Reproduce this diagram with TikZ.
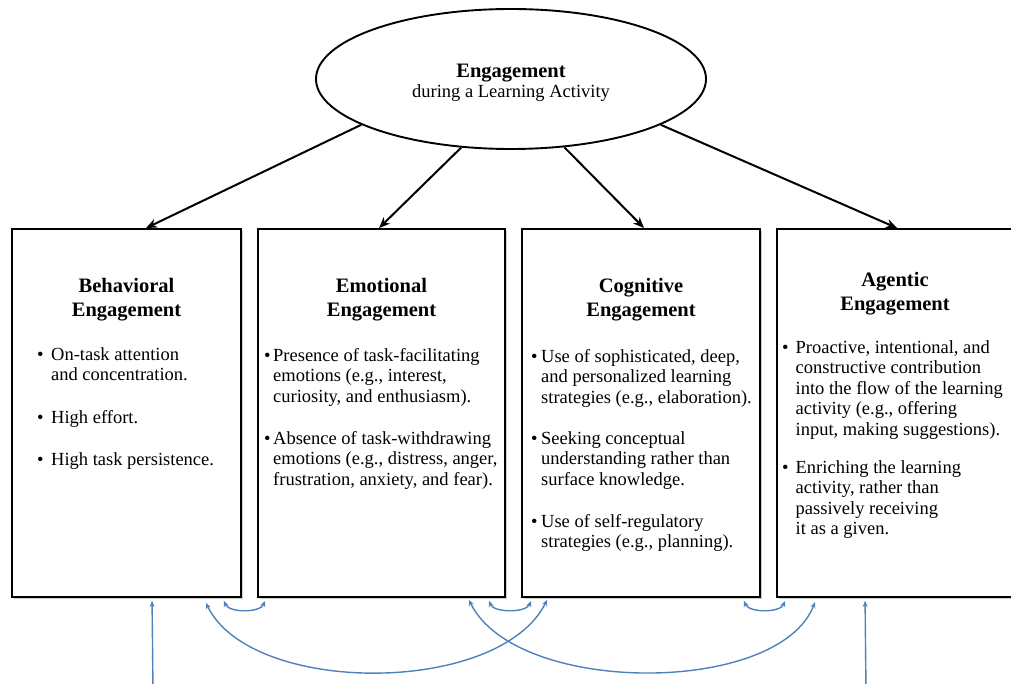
\documentclass[tikz,border=0pt]{standalone}
\usepackage{fontspec}
\setmainfont{Liberation Serif}
\usetikzlibrary{arrows.meta,shapes.geometric,calc,shadows}
\definecolor{linkblue}{RGB}{79,129,189}
\newcommand\bitem[2]{\textbullet\hspace{#1}\begin{tabular}[t]{@{}l@{}}#2\end{tabular}}
\begin{document}
\begin{tikzpicture}[x=1pt,y=-1pt,
  box/.style={draw=black, line width=1.9pt, fill=white, rectangle, minimum height=368pt, inner sep=0pt,
    drop shadow={shadow xshift=1.8pt, shadow yshift=-1.8pt, fill=black!40}},
  ttl/.style={font=\fontsize{20.5}{24}\selectfont\bfseries, anchor=base, inner sep=0pt},
  bl/.style={font=\fontsize{18.5}{20.6}\selectfont, anchor=base west, inner sep=0pt},
  harrow/.style={-{Stealth[length=11pt,width=9pt]}, line width=2pt},
  barrow/.style={{Stealth[length=6pt,width=5pt]}-{Stealth[length=6pt,width=5pt]}, draw=linkblue, line width=1.4pt},
  varrow/.style={-{Stealth[length=6pt,width=5pt]}, draw=linkblue, line width=1.4pt},
]
\useasboundingbox (0,0) rectangle (1011,684);

% top ellipse
\node[ellipse, draw, line width=1.9pt, minimum width=390pt, minimum height=140pt, inner sep=0pt] (eng) at (511,79)
  {\fontsize{18.5}{20}\selectfont\raisebox{-9pt}[0pt][0pt]{\begin{tabular}[c]{@{}c@{}}\fontsize{20.5}{20}\selectfont\bfseries Engagement\\during a Learning Activity\end{tabular}}};

% boxes
\node[box, minimum width=229pt] (b1) at (126.5,413) {};
\node[box, minimum width=247pt] (b2) at (381.5,413) {};
\node[box, minimum width=238pt] (b3) at (641,413) {};
\node[box, minimum width=236pt] (b4) at (895,413) {};

% titles
\node[ttl] (t1) at (126.5,293) {\begin{tabular}[t]{@{}c@{}}Behavioral\\Engagement\end{tabular}};
\node[ttl] (t2) at (381.5,293) {\begin{tabular}[t]{@{}c@{}}Emotional\\Engagement\end{tabular}};
\node[ttl] (t3) at (641,293) {\begin{tabular}[t]{@{}c@{}}Cognitive\\Engagement\end{tabular}};
\node[ttl] (t4) at (895,287) {\begin{tabular}[t]{@{}c@{}}Agentic\\Engagement\end{tabular}};

% bullets box 1
\node[bl] (b1i1) at (37,360) {\bitem{7.5pt}{On-task attention\\and concentration.}};
\node[bl] (b1i2) at (37,423) {\bitem{7.5pt}{High effort.}};
\node[bl] (b1i3) at (37,465) {\bitem{7.5pt}{High task persistence.}};
% bullets box 2
\node[bl] (b2i1) at (264,361) {\bitem{2.5pt}{Presence of task-facilitating\\emotions (e.g., interest,\\curiosity, and enthusiasm).}};
\node[bl] (b2i2) at (264,444) {\bitem{2.5pt}{Absence of task-withdrawing\\emotions (e.g., distress, anger,\\frustration, anxiety, and fear).}};
% bullets box 3
\node[bl] (b3i1) at (531,362) {\bitem{3.5pt}{Use of sophisticated, deep,\\and personalized learning\\strategies (e.g., elaboration).}};
\node[bl] (b3i2) at (531,444) {\bitem{3.5pt}{Seeking conceptual\\understanding rather than\\surface knowledge.}};
\node[bl] (b3i3) at (531,527) {\bitem{3.5pt}{Use of self-regulatory\\strategies (e.g., planning).}};
% bullets box 4
\node[bl] (b4i1) at (782,353) {\bitem{7pt}{Proactive, intentional, and\\constructive contribution\\into the flow of the learning\\activity (e.g., offering\\input, making suggestions).}};
\node[bl] (b4i2) at (782,473) {\bitem{7pt}{Enriching the learning\\activity, rather than\\passively receiving\\it as a given.}};

% black arrows
\draw[harrow] (eng.197.2) -- ($(b1.north west)+(135,0)$);
\draw[harrow] (eng.234.3) -- ($(b2.north west)+(122,0)$);
\draw[harrow] (eng.308.3) -- ($(b3.north west)+(123,0)$);
\draw[harrow] (eng.343.7) -- ($(b4.north west)+(121,0)$);

% blue arrows
\coordinate (v1) at (153,690);
\coordinate (v2) at (866,690);
\draw[varrow] (v1) -- ($(b1.south west)+(141,3)$);
\draw[varrow] (v2) -- ($(b4.south west)+(89,3)$);

\draw[barrow] ($(b1.south east)+(-18,3)$) .. controls +(5,12) and +(-5,12) .. ($(b2.south west)+(8,3)$);
\draw[barrow] ($(b2.south east)+(-17,3)$) .. controls +(5,12) and +(-5,12) .. ($(b3.south west)+(10,3)$);
\draw[barrow] ($(b3.south east)+(-17,3)$) .. controls +(5,12) and +(-5,12) .. ($(b4.south west)+(9,3)$);

\draw[barrow] ($(b1.south east)+(-36,5)$) .. controls +(45,93) and +(-48,96) .. ($(b3.south west)+(26,2)$);
\draw[barrow] ($(b2.south east)+(-37,2)$) .. controls +(47,96) and +(-36,94) .. ($(b4.south west)+(39,4)$);
\end{tikzpicture}
\end{document}
